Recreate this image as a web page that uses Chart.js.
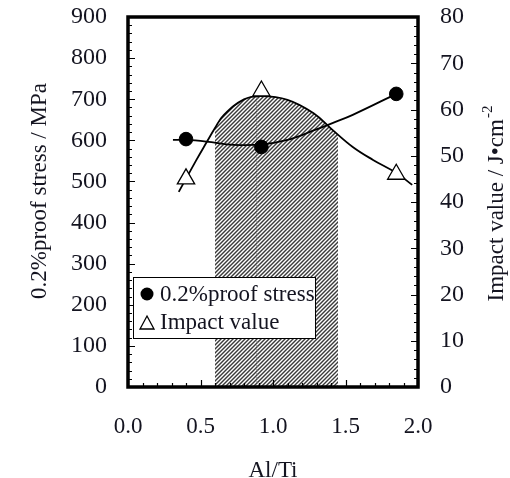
<!DOCTYPE html>
<html>
<head>
<meta charset="utf-8">
<script src="https://cdn.jsdelivr.net/npm/chart.js@4.4.0/dist/chart.umd.min.js"></script>
<style>
  html, body { margin: 0; padding: 0; background: #fff; }
  #wrap { width: 510px; height: 478px; }
</style>
</head>
<body>
<div id="wrap"><canvas id="chart"></canvas></div>
<script>
// measured points
const stressX = [0.4, 0.92, 1.85];
const stressY = [603, 584, 713];
const impactX = [0.4, 0.92, 1.85];
const impactY = [45, 64, 46];

// fitted curves
const stressCurveX = [0.31, 0.4, 0.54, 0.73, 0.92, 1.10, 1.28, 1.41, 1.55, 1.85];
const stressCurveY = [601, 601, 597, 589, 590, 601, 624, 642, 662, 713];
const impactCurveX = [0.35, 0.47, 0.54, 0.6, 0.66, 0.8, 0.92, 1.10, 1.28, 1.41, 1.55, 1.69, 1.85, 1.96];
const impactCurveY = [42.2, 49, 52.8, 56, 58.8, 62.2, 62.9, 62.1, 59.2, 55.6, 51.9, 49.1, 46.3, 43.7];

// hatched Al/Ti window and the dotted marker line
const windowX = [0.6, 1.45];
const peakLineX = [0.89, 0.89];
const peakLineY = [0, 62.9];

const xTickLabels = ['0.0', '0.5', '1.0', '1.5', '2.0'];
const stressTicks = [0, 100, 200, 300, 400, 500, 600, 700, 800, 900];
const impactTicks = [0, 10, 20, 30, 40, 50, 60, 70, 80];

const FONT = '"Liberation Serif", "Times New Roman", serif';
const INK = '#141420';

const toPts = (xs, ys) => xs.map((x, i) => ({ x: x, y: ys[i] }));

// hatch only inside the window strip, transparent elsewhere
let hatchCache = null;
function windowFill(context) {
    const chart = context.chart;
    if (!chart.chartArea) return 'rgba(0,0,0,0)';
    const x0 = Math.round(chart.scales.x.getPixelForValue(windowX[0]));
    const x1 = Math.round(chart.scales.x.getPixelForValue(windowX[1]));
    const key = x0 + ':' + x1 + ':' + chart.canvas.width;
    if (hatchCache && hatchCache.key === key) return hatchCache.pattern;

    const c = document.createElement('canvas');
    c.width = chart.canvas.width;
    c.height = chart.canvas.height;
    const g = c.getContext('2d');
    g.beginPath();
    g.rect(x0, 0, x1 - x0, c.height);
    g.clip();
    g.fillStyle = '#fff';
    g.fillRect(x0, 0, x1 - x0, c.height);
    g.strokeStyle = '#3a3a3a';
    g.lineWidth = 1.3;
    g.beginPath();
    for (let s = -c.height; s < c.width + c.height; s += 4) {
        g.moveTo(s, c.height);
        g.lineTo(s + c.height, 0);
    }
    g.stroke();
    hatchCache = { key: key, pattern: chart.ctx.createPattern(c, 'no-repeat') };
    return hatchCache.pattern;
}

// frame, inward ticks, legend and vertical titles
const decorPlugin = {
    id: 'decor',
    afterDatasetsDraw(chart) {
        const { ctx, chartArea: a, scales } = chart;
        ctx.save();
        ctx.strokeStyle = '#000';
        ctx.lineWidth = 1.2;
        ctx.beginPath();
        for (let v = 0; v <= 900; v += 20) {
            const y = Math.round(scales.y.getPixelForValue(v)) + 0.5;
            const len = v % 100 === 0 ? 7 : 4;
            ctx.moveTo(a.left, y); ctx.lineTo(a.left + len, y);
        }
        for (let v = 0; v <= 80; v += 2) {
            const y = Math.round(scales.y1.getPixelForValue(v)) + 0.5;
            const len = v % 10 === 0 ? 7 : 4;
            ctx.moveTo(a.right, y); ctx.lineTo(a.right - len, y);
        }
        for (let i = 0; i <= 20; i++) {
            const x = Math.round(scales.x.getPixelForValue(i / 10)) + 0.5;
            const len = i % 5 === 0 ? 7 : 4;
            ctx.moveTo(x, a.bottom); ctx.lineTo(x, a.bottom - len);
        }
        ctx.stroke();

        ctx.lineWidth = 3.5;
        ctx.strokeRect(a.left, a.top, a.right - a.left, a.bottom - a.top);
        ctx.restore();
    },
    afterDraw(chart) {
        const { ctx, chartArea: a } = chart;
        ctx.save();
        // legend
        const lx = a.left + 5, ly = a.top + 260;
        ctx.fillStyle = '#fff';
        ctx.fillRect(lx, ly, 182, 61);
        ctx.strokeStyle = '#000';
        ctx.lineWidth = 1;
        ctx.strokeRect(lx + 0.5, ly + 0.5, 182, 61);

        ctx.fillStyle = '#000';
        ctx.beginPath();
        ctx.arc(lx + 14, ly + 17, 6.5, 0, Math.PI * 2);
        ctx.fill();

        ctx.lineWidth = 1.3;
        ctx.beginPath();
        ctx.moveTo(lx + 14, ly + 39);
        ctx.lineTo(lx + 21, ly + 52);
        ctx.lineTo(lx + 7, ly + 52);
        ctx.closePath();
        ctx.stroke();

        ctx.fillStyle = INK;
        ctx.font = '23px ' + FONT;
        ctx.textBaseline = 'middle';
        ctx.textAlign = 'left';
        ctx.fillText('0.2%proof stress', lx + 27, ly + 18);
        ctx.fillText('Impact value', lx + 27, ly + 46);

        ctx.textBaseline = 'alphabetic';
        // left title
        ctx.save();
        ctx.translate(46, 191);
        ctx.rotate(-Math.PI / 2);
        ctx.textAlign = 'center';
        ctx.fillText('0.2%proof stress / MPa', 0, 0);
        ctx.restore();

        // right title with superscript
        ctx.save();
        ctx.translate(503, 204);
        ctx.rotate(-Math.PI / 2);
        const main = 'Impact value / J\u2022cm';
        ctx.font = '23px ' + FONT;
        const w1 = ctx.measureText(main).width;
        ctx.font = '15px ' + FONT;
        const w2 = ctx.measureText('-2').width;
        const x0 = -(w1 + w2) / 2;
        ctx.font = '23px ' + FONT;
        ctx.textAlign = 'left';
        ctx.fillText(main, x0, 0);
        ctx.font = '15px ' + FONT;
        ctx.fillText('-2', x0 + w1 + 1, -11);
        ctx.restore();

        ctx.restore();
    }
};

const canvas = document.getElementById('chart');
const ctx = canvas.getContext('2d');

new Chart(ctx, {
    type: 'line',
    data: {
        datasets: [
            {
                label: '0.2%proof stress',
                data: toPts(stressX, stressY),
                yAxisID: 'y',
                showLine: false,
                pointStyle: 'circle',
                pointRadius: 6.8,
                pointBackgroundColor: '#000',
                pointBorderColor: '#000',
                order: 0
            },
            {
                label: 'Impact value',
                data: toPts(impactX, impactY),
                yAxisID: 'y1',
                showLine: false,
                pointStyle: 'triangle',
                pointRadius: 10,
                pointBackgroundColor: '#fff',
                pointBorderColor: '#000',
                pointBorderWidth: 1.3,
                order: 0
            },
            {
                label: 'stress fit',
                data: toPts(stressCurveX, stressCurveY),
                yAxisID: 'y',
                borderColor: '#000',
                borderWidth: 1.8,
                tension: 0.4,
                pointRadius: 0,
                fill: false,
                order: 1
            },
            {
                label: 'impact fit',
                data: toPts(impactCurveX, impactCurveY),
                yAxisID: 'y1',
                borderColor: '#000',
                borderWidth: 1.8,
                tension: 0.4,
                pointRadius: 0,
                fill: false,
                order: 1
            },
            {
                label: 'peak',
                data: toPts(peakLineX, peakLineY),
                yAxisID: 'y1',
                borderColor: '#777',
                borderWidth: 1,
                borderDash: [2, 2],
                pointRadius: 0,
                fill: false,
                order: 2
            },
            {
                label: 'window',
                data: toPts(impactCurveX, impactCurveY),
                yAxisID: 'y1',
                borderWidth: 0,
                borderColor: 'rgba(0,0,0,0)',
                backgroundColor: windowFill,
                tension: 0.4,
                pointRadius: 0,
                fill: 'origin',
                order: 3
            }
        ]
    },
    options: {
        responsive: true,
        maintainAspectRatio: false,
        animation: false,
        layout: { padding: { top: 17, left: 0, right: 0, bottom: 0 } },
        plugins: {
            legend: { display: false },
            tooltip: { enabled: false }
        },
        scales: {
            x: {
                type: 'linear',
                min: 0,
                max: 2,
                grid: { display: false, drawTicks: false },
                border: { display: false },
                afterBuildTicks: (scale) => {
                    scale.ticks = xTickLabels.map(t => ({ value: parseFloat(t) }));
                },
                ticks: {
                    padding: 26,
                    color: INK,
                    font: { family: FONT, size: 23 },
                    maxRotation: 0,
                    callback: (v) => Number(v).toFixed(1)
                },
                title: {
                    display: true,
                    text: 'Al/Ti',
                    color: INK,
                    font: { family: FONT, size: 23, lineHeight: 0.6 },
                    padding: { top: 0, bottom: 0 }
                },
                afterFit: (scale) => {
                    scale.height = 91;
                    scale.paddingLeft = 0;
                    scale.paddingRight = 0;
                }
            },
            y: {
                position: 'left',
                min: 0,
                max: 900,
                grid: { display: false, drawTicks: false },
                border: { display: false },
                afterBuildTicks: (scale) => {
                    scale.ticks = stressTicks.map(v => ({ value: v }));
                },
                ticks: {
                    padding: 21,
                    color: INK,
                    font: { family: FONT, size: 24 }
                },
                afterFit: (scale) => {
                    scale.width = 128;
                    scale.paddingTop = 0;
                    scale.paddingBottom = 0;
                }
            },
            y1: {
                position: 'right',
                min: 0,
                max: 80,
                grid: { display: false, drawTicks: false },
                border: { display: false },
                afterBuildTicks: (scale) => {
                    scale.ticks = impactTicks.map(v => ({ value: v }));
                },
                ticks: {
                    padding: 22,
                    color: INK,
                    font: { family: FONT, size: 24 }
                },
                afterFit: (scale) => {
                    scale.width = 92;
                    scale.paddingTop = 0;
                    scale.paddingBottom = 0;
                }
            }
        }
    },
    plugins: [decorPlugin]
});
</script>
</body>
</html>
